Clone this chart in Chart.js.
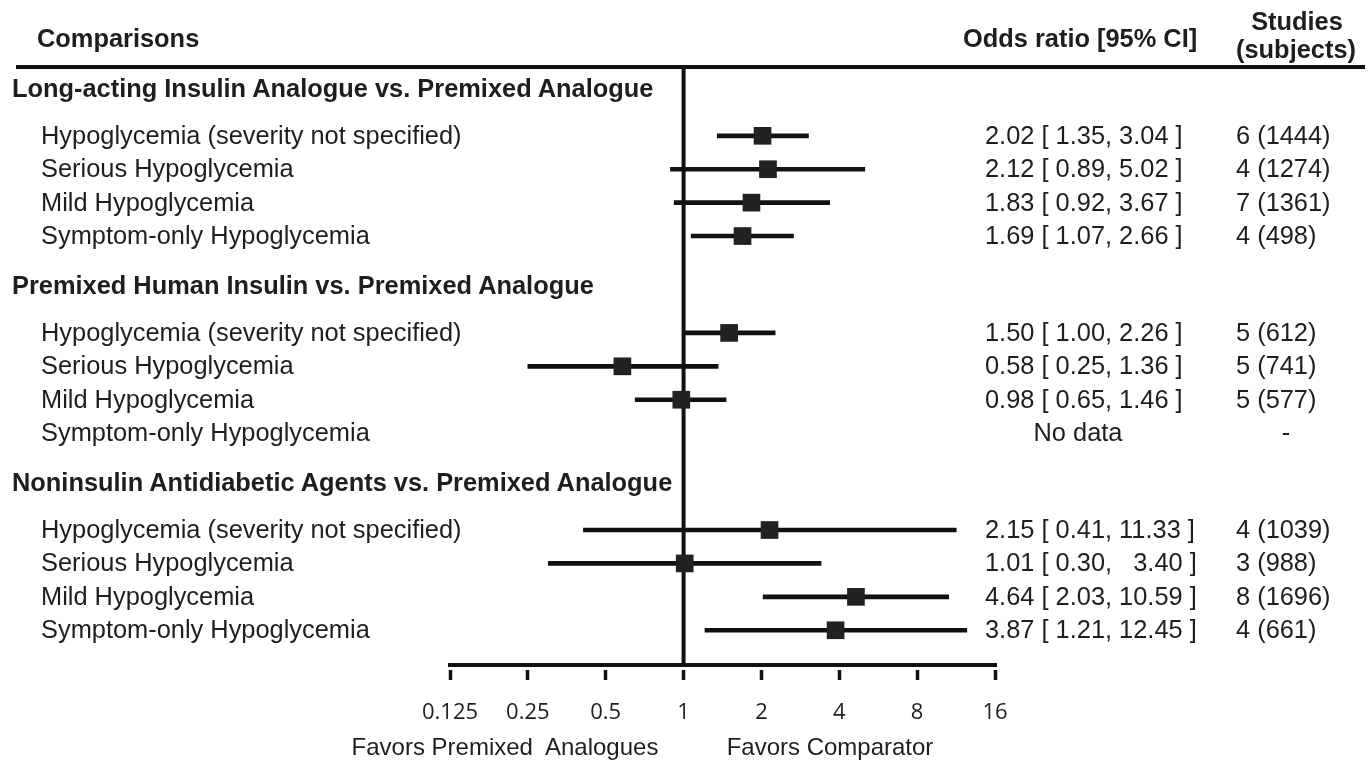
<!DOCTYPE html>
<html>
<head>
<meta charset="utf-8">
<script src="https://cdn.jsdelivr.net/npm/chart.js@4/dist/chart.umd.min.js"></script>
<style>
  html, body { margin: 0; padding: 0; background: #ffffff; overflow: hidden; }
  #wrap { position: relative; width: 1368px; height: 762px; }
  #c { position: absolute; left: 0; top: 0; }
  .t { position: absolute; white-space: pre; line-height: 1; color: #1e1e1e;
       font-family: "Liberation Sans", Arial, sans-serif; font-size: 25.4px; transform: translateY(-50%); }
  .b { font-weight: bold; }
  .c { transform: translate(-50%, -50%); }
</style>
</head>
<body>
<div id="wrap"><canvas id="c" width="1368" height="762"></canvas></div>
<script>
// ---------------- data ----------------
const groupTitles = [
  'Long-acting Insulin Analogue vs. Premixed Analogue',
  'Premixed Human Insulin vs. Premixed Analogue',
  'Noninsulin Antidiabetic Agents vs. Premixed Analogue'
];
const outcomeLabels = [
  'Hypoglycemia (severity not specified)',
  'Serious Hypoglycemia',
  'Mild Hypoglycemia',
  'Symptom-only Hypoglycemia'
];
const oddsRatio = [2.02, 2.12, 1.83, 1.69,  1.50, 0.58, 0.98, null,  2.15, 1.01, 4.64, 3.87];
const lowerCI   = [1.35, 0.89, 0.92, 1.07,  1.00, 0.25, 0.65, null,  0.41, 0.30, 2.03, 1.21];
const upperCI   = [3.04, 5.02, 3.67, 2.66,  2.26, 1.36, 1.46, null, 11.33, 3.40, 10.59, 12.45];
const ciText = [
  '2.02 [ 1.35, 3.04 ]', '2.12 [ 0.89, 5.02 ]', '1.83 [ 0.92, 3.67 ]', '1.69 [ 1.07, 2.66 ]',
  '1.50 [ 1.00, 2.26 ]', '0.58 [ 0.25, 1.36 ]', '0.98 [ 0.65, 1.46 ]', 'No data',
  '2.15 [ 0.41, 11.33 ]', '1.01 [ 0.30,   3.40 ]', '4.64 [ 2.03, 10.59 ]', '3.87 [ 1.21, 12.45 ]'
];
const studyText = [
  '6 (1444)', '4 (1274)', '7 (1361)', '4 (498)',
  '5 (612)', '5 (741)', '5 (577)', '-',
  '4 (1039)', '3 (988)', '8 (1696)', '4 (661)'
];
const xTickValues = [0.125, 0.25, 0.5, 1, 2, 4, 8, 16];
const xTickLabels = ['0.125', '0.25', '0.5', '1', '2', '4', '8', '16'];

// ---------------- row layout (structure only) ----------------
const TITLE_GAP = 1.4, GROUP_GAP = 1.5;
const GROUP_STEP = TITLE_GAP + (outcomeLabels.length - 1) + GROUP_GAP;
const titleY = g => g * GROUP_STEP;
const rowY = i => Math.floor(i / outcomeLabels.length) * GROUP_STEP + TITLE_GAP + (i % outcomeLabels.length);

const ciBars = [], points = [];
oddsRatio.forEach((v, i) => {
  if (v == null) return;
  ciBars.push({ y: rowY(i), x: [lowerCI[i], upperCI[i]] });
  points.push({ x: v, y: rowY(i) });
});

const INK = '#111111';
const decor = {
  id: 'decor',
  beforeDatasetsDraw(chart) {
    const { ctx, chartArea, scales } = chart;
    const x = scales.x;
    const axisY = chartArea.bottom - 5;
    ctx.save();
    ctx.strokeStyle = INK;
    ctx.lineWidth = 4;
    ctx.lineCap = 'butt';
    ctx.beginPath();
    ctx.moveTo(16, chartArea.top);
    ctx.lineTo(1365, chartArea.top);
    ctx.stroke();
    const x1 = x.getPixelForValue(1);
    ctx.beginPath();
    ctx.moveTo(x1, chartArea.top);
    ctx.lineTo(x1, axisY);
    ctx.stroke();
    ctx.beginPath();
    ctx.moveTo(x.getPixelForValue(xTickValues[0]) - 2, axisY);
    ctx.lineTo(x.getPixelForValue(xTickValues[xTickValues.length - 1]) + 2, axisY);
    ctx.stroke();
    ctx.restore();
  }
};

const chart = new Chart(document.getElementById('c'), {
  data: {
    datasets: [
      {
        type: 'scatter',
        data: points,
        pointStyle: 'rect',
        pointRadius: 12.5,
        pointHoverRadius: 12.5,
        backgroundColor: '#222222',
        borderWidth: 0,
        order: 0,
        xAxisID: 'x', yAxisID: 'y'
      },
      {
        type: 'bar',
        indexAxis: 'y',
        data: ciBars,
        backgroundColor: INK,
        borderWidth: 0,
        barThickness: 4,
        borderSkipped: false,
        order: 1,
        xAxisID: 'x', yAxisID: 'y'
      }
    ]
  },
  options: {
    responsive: false,
    animation: false,
    events: [],
    layout: { padding: { left: 450, right: 373, top: 67, bottom: 0 } },
    plugins: { legend: { display: false }, tooltip: { enabled: false } },
    scales: {
      x: {
        type: 'logarithmic',
        position: 'bottom',
        min: 0.125,
        max: 16,
        offset: false,
        afterBuildTicks(scale) { scale.ticks = xTickValues.map(v => ({ value: v })); },
        afterFit(scale) { scale.height = 92; },
        ticks: {
          autoSkip: false,
          maxRotation: 0,
          minRotation: 0,
          padding: 20,
          color: '#1e1e1e',
          font: { family: '"Open Sans", "Liberation Sans", sans-serif', size: 22 },
          callback: (v, i) => xTickLabels[i]
        },
        grid: {
          offset: false,
          drawOnChartArea: false,
          drawTicks: true,
          tickLength: 10,
          tickWidth: 3.5,
          tickColor: INK,
          color: INK
        },
        border: { display: false }
      },
      y: {
        type: 'linear',
        display: false,
        reverse: true,
        offset: false,
        grace: 0,
        min: -0.66,
        max: 17.39
      }
    }
  },
  plugins: [decor]
});

// ---------------- text (real DOM text positioned from the y scale) ----------------
const wrap = document.getElementById('wrap');
function addText(txt, left, top, cls) {
  const d = document.createElement('div');
  d.className = 't' + (cls ? ' ' + cls : '');
  d.textContent = txt;
  d.style.left = left + 'px';
  d.style.top = top + 'px';
  wrap.appendChild(d);
  return d;
}
const ys = chart.scales.y;
addText('Comparisons', 37, 39, 'b');
addText('Odds ratio [95% CI]', 963, 39, 'b');
addText('Studies', 1297, 22, 'b c');
addText('(subjects)', 1296, 50, 'b c');
groupTitles.forEach((g, gi) => addText(g, 12, ys.getPixelForValue(titleY(gi)), 'b'));
ciText.forEach((txt, i) => {
  const py = ys.getPixelForValue(rowY(i));
  addText(outcomeLabels[i % outcomeLabels.length], 41, py);
  if (oddsRatio[i] == null) addText(txt, 1078, py, 'c');
  else addText(txt, 985, py);
  if (studyText[i] === '-') addText(studyText[i], 1286, py, 'c');
  else addText(studyText[i], 1236, py);
});
addText('Favors Premixed  Analogues', 505, 747, 'c').style.fontSize = '24px';
addText('Favors Comparator', 830, 747, 'c').style.fontSize = '24px';
</script>
</body>
</html>
